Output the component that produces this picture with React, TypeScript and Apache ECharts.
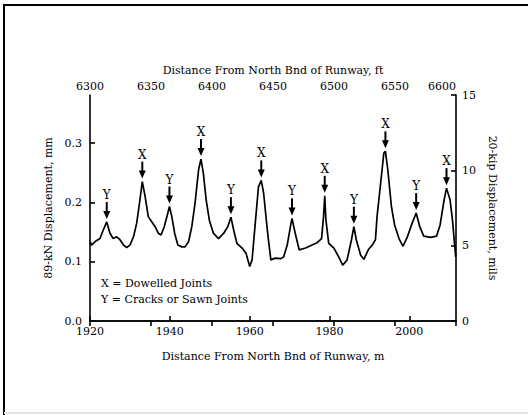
import React, { useEffect, useRef } from "react";
import * as echarts from "echarts";

// Distance along runway (m) and 89-kN displacement (mm)
const distanceM = [
  1920.0, 1920.4, 1921.3, 1922.5, 1923.3, 1924.2, 1925.0, 1925.8, 1926.7, 1927.5,
  1928.4, 1929.2, 1930.0, 1930.9, 1931.7, 1932.5, 1933.1, 1933.8, 1934.6, 1935.5,
  1936.3, 1937.1, 1937.8, 1938.6, 1939.5, 1939.9, 1940.5, 1941.2, 1942.0, 1943.0,
  1943.8, 1944.7, 1945.5, 1946.3, 1947.2, 1947.8, 1948.4, 1949.1, 1949.9, 1950.9,
  1952.2, 1953.5, 1954.5, 1955.3, 1956.0, 1956.8, 1958.1, 1959.1, 1960.0, 1960.6,
  1961.4, 1962.2, 1962.9, 1963.5, 1964.5, 1965.3, 1966.4, 1967.7, 1968.5, 1969.4,
  1970.2, 1970.6, 1971.4, 1972.4, 1974.0, 1975.6, 1976.9, 1978.0, 1978.5, 1978.8,
  1979.1, 1979.8, 1981.1, 1982.3, 1983.3, 1984.4, 1985.5, 1986.1, 1986.7, 1987.8,
  1988.6, 1989.7, 1990.7, 1991.5, 1991.9, 1992.8, 1993.6, 1994.0, 1994.6, 1995.5,
  1996.3, 1997.4, 1998.4, 1999.5, 2000.7, 2001.7, 2002.6, 2003.6, 2005.3, 2006.8,
  2007.7, 2008.7, 2009.3, 2010.2, 2010.8, 2011.3, 2011.6,
];
const displacementMm = [
  0.134, 0.128, 0.134, 0.139, 0.153, 0.167, 0.148, 0.139, 0.142, 0.137,
  0.128, 0.124, 0.128, 0.142, 0.165, 0.204, 0.235, 0.210, 0.176, 0.167,
  0.159, 0.148, 0.145, 0.159, 0.182, 0.193, 0.176, 0.148, 0.128, 0.125,
  0.125, 0.134, 0.159, 0.198, 0.255, 0.273, 0.249, 0.204, 0.170, 0.148,
  0.139, 0.148, 0.159, 0.175, 0.153, 0.131, 0.123, 0.114, 0.092, 0.103,
  0.165, 0.226, 0.237, 0.215, 0.148, 0.103, 0.106, 0.105, 0.108, 0.128,
  0.159, 0.173, 0.148, 0.120, 0.123, 0.128, 0.132, 0.139, 0.176, 0.211,
  0.170, 0.131, 0.123, 0.108, 0.094, 0.103, 0.137, 0.159, 0.137, 0.111,
  0.104, 0.120, 0.128, 0.137, 0.176, 0.232, 0.283, 0.286, 0.255, 0.193,
  0.162, 0.139, 0.126, 0.142, 0.165, 0.182, 0.159, 0.143, 0.141, 0.143,
  0.162, 0.204, 0.224, 0.204, 0.170, 0.131, 0.108,
];

// Joint annotations
const jointDistM = [1924.2, 1933.1, 1939.9, 1947.8, 1955.3, 1962.9, 1970.6, 1978.8, 1986.1, 1994.0, 2001.7, 2009.3];
const jointPeakMm = [0.167, 0.235, 0.193, 0.273, 0.175, 0.237, 0.173, 0.211, 0.159, 0.286, 0.182, 0.224];
const jointTypes = ["Y", "X", "Y", "X", "Y", "X", "Y", "X", "Y", "X", "Y", "X"];

// Axis ticks
const metreTicks = [1920, 1940, 1960, 1980, 2000];
const metreMax = 2011.68;
const feetTicks = [6300, 6350, 6400, 6450, 6500, 6550, 6600];
const mmTicks = [0.0, 0.1, 0.2, 0.3];
const mmMax = 0.381;
const milsTicks = [0, 5, 10, 15];

const legendLines = ["X = Dowelled Joints", "Y = Cracks or Sawn Joints"];

const FONT = "DejaVu Serif";

export default function App() {
  const ref = useRef<HTMLDivElement>(null);

  useEffect(() => {
    const chart = echarts.init(ref.current!, null, { renderer: "svg" });
    const axisCommon = {
      axisLine: { show: true, lineStyle: { color: "#000", width: 1.6 } },
      axisTick: { show: true, inside: true, length: 5, lineStyle: { color: "#000", width: 1.6 } },
      splitLine: { show: false },
      nameTextStyle: { color: "#000", fontFamily: FONT, fontSize: 11 },
    };
    const labelCommon = { color: "#000", fontFamily: FONT, fontSize: 11 };

    chart.setOption({
      animation: false,
      backgroundColor: "#fff",
      grid: { left: 90, right: 72, top: 95, bottom: 94 },
      xAxis: [
        {
          ...axisCommon,
          type: "value",
          position: "bottom",
          min: metreTicks[0],
          max: metreMax,
          interval: metreTicks[1] - metreTicks[0],
          name: "Distance From North Bnd of Runway, m",
          nameLocation: "middle",
          nameGap: 30,
          axisLabel: { ...labelCommon, margin: 5, showMaxLabel: false, formatter: (v: number) => String(Math.round(v)) },
        },
        {
          ...axisCommon,
          type: "value",
          position: "top",
          min: feetTicks[0],
          max: feetTicks[feetTicks.length - 1],
          interval: feetTicks[1] - feetTicks[0],
          name: "Distance From North Bnd of Runway, ft",
          nameLocation: "middle",
          nameGap: 19,
          axisLabel: { ...labelCommon, margin: 3, alignMaxLabel: "right", formatter: (v: number) => String(Math.round(v)) },
        },
      ],
      yAxis: [
        {
          ...axisCommon,
          type: "value",
          position: "left",
          min: mmTicks[0],
          max: mmMax,
          interval: mmTicks[1] - mmTicks[0],
          name: "89-kN Displacement, mm",
          nameLocation: "middle",
          nameGap: 34,
          nameRotate: 90,
          axisLabel: { ...labelCommon, margin: 8, showMaxLabel: false, formatter: (v: number) => v.toFixed(1) },
        },
        {
          ...axisCommon,
          type: "value",
          position: "right",
          min: milsTicks[0],
          max: milsTicks[milsTicks.length - 1],
          interval: milsTicks[1] - milsTicks[0],
          name: "20-kip Displacement, mils",
          nameLocation: "middle",
          nameGap: 26,
          nameRotate: -90,
          axisLabel: { ...labelCommon, margin: 6, formatter: (v: number) => String(Math.round(v)) },
        },
      ],
      series: [
        {
          type: "line",
          xAxisIndex: 0,
          yAxisIndex: 0,
          data: distanceM.map((d, i) => [d, displacementMm[i]]),
          symbol: "none",
          lineStyle: { color: "#000", width: 1.7 },
          silent: true,
        },
        {
          type: "custom",
          xAxisIndex: 0,
          yAxisIndex: 0,
          clip: false,
          data: jointDistM.map((d, i) => [d, jointPeakMm[i]]),
          renderItem: (params: any, api: any) => {
            const p = api.coord([api.value(0), api.value(1)]);
            const x = p[0];
            const y = p[1];
            return {
              type: "group",
              children: [
                {
                  type: "text",
                  style: {
                    text: jointTypes[params.dataIndex],
                    x,
                    y: y - 27,
                    align: "center",
                    verticalAlign: "middle",
                    fontFamily: FONT,
                    fontSize: 12,
                    fill: "#000",
                  },
                },
                {
                  type: "line",
                  shape: { x1: x, y1: y - 20, x2: x, y2: y - 9 },
                  style: { stroke: "#000", lineWidth: 2 },
                },
                {
                  type: "polygon",
                  shape: { points: [[x - 3.5, y - 11], [x + 3.5, y - 11], [x, y - 3]] },
                  style: { fill: "#000" },
                },
              ],
            };
          },
        },
      ],
      graphic: [
        { type: "line", shape: { x1: 3, y1: 5, x2: 528, y2: 5 }, style: { stroke: "#000", lineWidth: 2 } },
        { type: "line", shape: { x1: 4, y1: 4, x2: 4, y2: 415 }, style: { stroke: "#000", lineWidth: 2 } },
        { type: "line", shape: { x1: 4, y1: 413, x2: 528, y2: 413 }, style: { stroke: "#e4e4e4", lineWidth: 2 } },
        ...legendLines.map((t, i) => ({
          type: "text",
          left: 101,
          top: 278 + i * 16,
          style: { text: t, fontFamily: FONT, fontSize: 11, fill: "#000" },
        })),
      ],
    });
    return () => chart.dispose();
  }, []);

  return <div ref={ref} style={{ position: "fixed", left: 0, top: 0, width: 528, height: 415 }} />;
}
